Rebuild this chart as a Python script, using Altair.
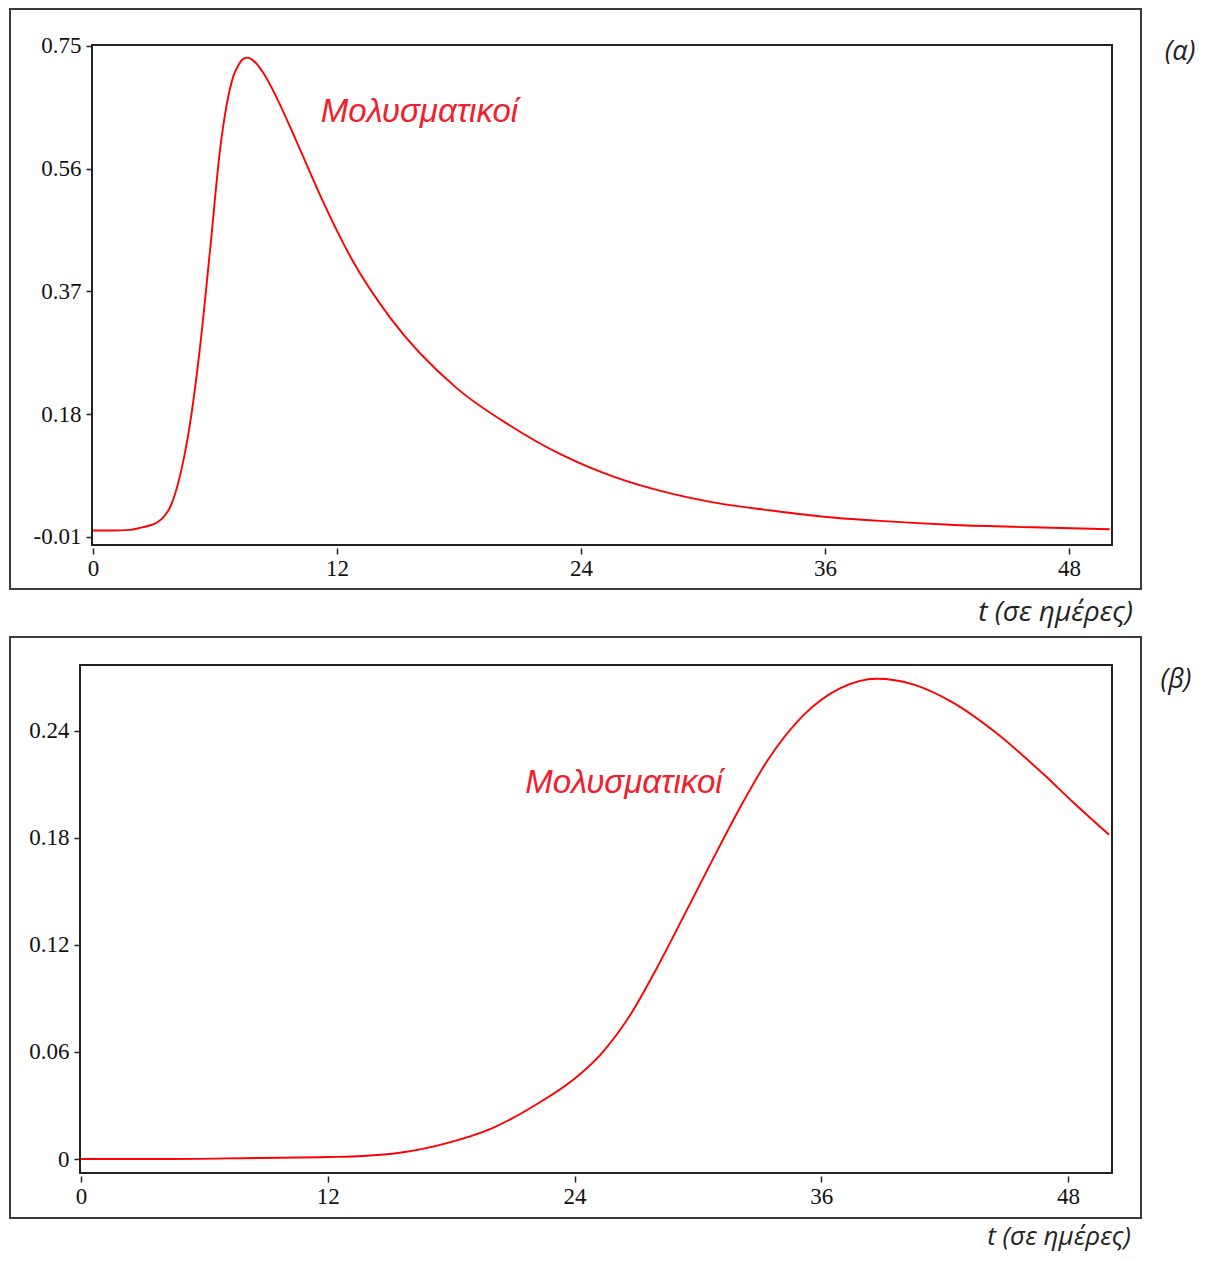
import altair as alt
import pandas as pd

# ---- data ----
t_a = [0, 1, 1.8, 2.3, 2.7, 3.13, 3.5, 3.79, 4.28, 4.77, 5.26, 5.76, 6.25, 6.58,
       6.9, 7.15, 7.39, 7.6, 7.85, 8.0, 8.38, 9.0, 9.69, 10.18, 11.33, 12.76, 14.6,
       17.9, 20.48, 23.06, 25.63, 28.2, 30.78, 33.36, 35.94, 38.5, 42.4, 46.2, 50]
i_a = [0, 0, 0.001, 0.004, 0.007, 0.012, 0.022, 0.036, 0.085, 0.165, 0.283, 0.435,
       0.59, 0.66, 0.703, 0.72, 0.73, 0.732, 0.728, 0.724, 0.708, 0.672, 0.625, 0.59,
       0.508, 0.418, 0.33, 0.22, 0.163, 0.117, 0.083, 0.059, 0.042, 0.031, 0.0214,
       0.0153, 0.0086, 0.005, 0.002]

t_b = [0, 4, 8.5, 12, 13.7, 15.5, 17.75, 19.98, 22.2, 24.0, 25.3, 26.67, 28.0,
       29.35, 30.68, 32.0, 33.36, 35.15, 36.93, 38.7, 40.5, 42.3, 44.5, 46.75,
       48.3, 50]
i_b = [0, 0, 0.0006, 0.0011, 0.0017, 0.0035, 0.0088, 0.0172, 0.031, 0.045, 0.059,
       0.08, 0.107, 0.137, 0.167, 0.196, 0.223, 0.249, 0.264, 0.2693, 0.266,
       0.2566, 0.239, 0.2164, 0.1995, 0.1818]

x_ticks = [0, 12, 24, 36, 48]
y_ticks_a = [-0.01, 0.18, 0.37, 0.56, 0.75]
y_ticks_b = [0, 0.06, 0.12, 0.18, 0.24]

series_label = "Μολυσματικοί"
x_title = "t (σε ημέρες)"
tag_a = "(α)"
tag_b = "(β)"

label_pos_a = (11.2, 0.648)
label_pos_b = (21.6, 0.211)

RED = "#ff0000"
LABEL_RED = "#f0202c"
AX_FONT = "Liberation Serif"
one = pd.DataFrame({"d": [0]})


def rect(x1, x2, y1, y2, color, sw):
    return alt.Chart(one).mark_rect(fill="white", fillOpacity=0, stroke=color,
                                    strokeWidth=sw).encode(
        x=alt.value(x1), x2=alt.value(x2), y=alt.value(y1), y2=alt.value(y2))


def panel(t, v, xdom, ydom, yticks, yexpr, yoff, w, h, lab, tag, outer, inner,
          tag_xy, xt_xy, xt_size):
    df = pd.DataFrame({"t": t, "v": v})
    xs = alt.Scale(domain=xdom, nice=False, zero=False)
    ys = alt.Scale(domain=ydom, nice=False, zero=False)
    xax = alt.Axis(values=x_ticks, title=None, domain=False, grid=False, offset=3,
                   tickSize=6, tickColor="#222", tickWidth=1.5, labelPadding=3,
                   labelFont=AX_FONT, labelFontSize=23, labelColor="#111",
                   format="d")
    yax = alt.Axis(values=yticks, title=None, domain=False, grid=False, offset=yoff,
                   tickSize=6, tickColor="#222", tickWidth=1.5, labelPadding=5,
                   labelFont=AX_FONT, labelFontSize=23, labelColor="#111",
                   labelExpr=yexpr)
    line = alt.Chart(df).mark_line(color=RED, strokeWidth=1.9, interpolate="monotone",
                                   clip=True).encode(
        x=alt.X("t:Q", scale=xs, axis=xax),
        y=alt.Y("v:Q", scale=ys, axis=yax),
    )
    ldf = pd.DataFrame({"t": [lab[0]], "v": [lab[1]], "s": [series_label]})
    label = alt.Chart(ldf).mark_text(align="left", baseline="middle",
                                     font="Liberation Sans", fontStyle="italic",
                                     fontSize=33, color=LABEL_RED).encode(
        x="t:Q", y="v:Q", text="s:N")
    box = rect(*outer, "#3a3a3a", 2)
    ibox = rect(*inner, "#222", 2)
    tagm = alt.Chart(one).mark_text(text=tag, font="Open Sans", fontStyle="italic",
                                    fontSize=27, color="#222", align="center",
                                    baseline="middle").encode(
        x=alt.value(tag_xy[0]), y=alt.value(tag_xy[1]))
    xt = alt.Chart(one).mark_text(text=x_title, font="Open Sans", fontStyle="italic",
                                  fontSize=xt_size, color="#222", align="right",
                                  baseline="middle").encode(
        x=alt.value(xt_xy[0]), y=alt.value(xt_xy[1]))
    return alt.layer(box, ibox, line, label, tagm, xt).properties(width=w, height=h)


expr_a = "replace(format(datum.value, '.2f'), '\u2212', '-')"
expr_b = "format(datum.value, '.2~f')"

pa = panel(t_a, i_a, [-0.639, 50.11], [-0.0224, 0.7515], y_ticks_a, expr_a, -12,
           1032, 500, label_pos_a, tag_a,
           (-70, 1061, -36, 544), (12, 1032, 0, 500), (1100, 7), (1053, 568), 28)
pb = panel(t_b, i_b, [-0.049, 50.14], [-0.00785, 0.277], y_ticks_b, expr_b, 0,
           1032, 508, label_pos_b, tag_b,
           (-70, 1061, -28, 553), (0, 1032, 0, 508), (1096, 15), (1051, 572), 26)

chart = alt.concat(pa, pb, columns=1, spacing=9, align="none").resolve_scale(
    x="independent", y="independent").properties(
    padding={"left": 1, "top": 0, "right": 0, "bottom": 3}
).configure(background="white").configure_view(strokeWidth=0)

chart.save("out.html", embed_options={"renderer": "svg", "actions": False})
